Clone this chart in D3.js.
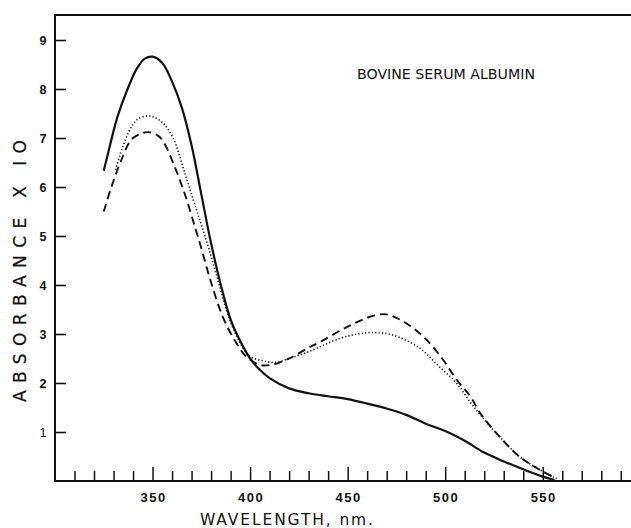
<!DOCTYPE html>
<html>
<head>
<meta charset="utf-8">
<script src="https://cdn.jsdelivr.net/npm/d3@7"></script>
<style>
  html, body { margin: 0; padding: 0; background: #fff; }
  svg { display: block; }
  text { font-family: "Liberation Sans", Arial, sans-serif; fill: #111; }
  .lettering { font-family: "DejaVu Sans", sans-serif; }
</style>
</head>
<body>
<svg id="chart" width="631" height="528"></svg>
<script>
// ---- data ----
const solidNm  = [325,328,332,337,342,346,350,355,360,365,370,375,380,385,390,395,400,405,410,420,430,440,450,460,470,480,490,500,510,520,530,540,550,556];
const solidVal = [6.33,6.82,7.43,7.98,8.42,8.62,8.66,8.53,8.15,7.62,6.85,5.85,4.85,4.00,3.30,2.85,2.50,2.27,2.10,1.89,1.79,1.73,1.67,1.58,1.48,1.35,1.17,1.02,0.82,0.58,0.40,0.24,0.09,0.02];

const dottedNm  = [331,336,340,343,348,352,356,361,366,372,378,384,389,395,400,407,413,420,430,446,455,463,473,487,497,506,513,518,528,538,548,557];
const dottedVal = [6.35,6.96,7.28,7.40,7.45,7.40,7.28,6.96,6.35,5.60,4.85,4.03,3.35,2.81,2.54,2.45,2.42,2.50,2.64,2.91,3.00,3.03,2.98,2.71,2.33,1.99,1.60,1.35,0.90,0.50,0.24,0.05];

const dashedNm  = [325,329,334,339,344,348,352,355,361,367,372,375,380,386,392,398,405,412,420,430,436,450,463,470,480,490,499,506,513,518,528,538,548,557];
const dashedVal = [5.50,6.01,6.55,6.96,7.09,7.12,7.07,6.96,6.45,5.80,5.15,4.75,4.05,3.35,2.88,2.54,2.37,2.38,2.50,2.72,2.84,3.15,3.37,3.40,3.22,2.90,2.47,2.06,1.72,1.38,0.90,0.50,0.24,0.05];

const xTickLabels = [350, 400, 450, 500, 550];
const yTickLabels = [1, 2, 3, 4, 5, 6, 7, 8, 9];
const titleText = "BOVINE SERUM ALBUMIN";
const xAxisTitle = "WAVELENGTH, nm.";
const yAxisTitle = "ABSORBANCE X IO";

// ---- layout ----
const svg = d3.select("#chart");
const plotL = 55, plotR = 631, plotT = 15, plotB = 481;

const x = d3.scaleLinear().domain([300, 300 + (plotR - plotL) / 1.951]).range([plotL, plotR]);
const y = d3.scaleLinear().domain([0, 9]).range([plotB, plotB - 9 * 49]);

// frame lines
svg.append("line").attr("x1", plotL).attr("x2", plotR).attr("y1", plotT).attr("y2", plotT)
  .attr("stroke", "#111").attr("stroke-width", 2);

// x axis (ticks inward/up)
const minorTicks = d3.range(310, 600, 10);
const xAxis = d3.axisBottom(x)
  .tickValues(minorTicks)
  .tickSize(0)
  .tickFormat("");
const gx = svg.append("g").attr("transform", `translate(0,${plotB})`).call(xAxis);
gx.select(".domain").remove();
gx.selectAll(".tick line").remove();
gx.selectAll(".tick").append("line")
  .attr("y1", 0)
  .attr("y2", d => (d % 50 === 0 ? -14 : -10))
  .attr("stroke", "#111").attr("stroke-width", 1.5);
svg.append("line").attr("x1", plotL).attr("x2", plotR).attr("y1", plotB).attr("y2", plotB)
  .attr("stroke", "#111").attr("stroke-width", 2);

// x tick labels
svg.append("g").selectAll("text").data(xTickLabels).join("text")
  .attr("x", d => x(d) + 1)
  .attr("y", 502)
  .attr("text-anchor", "middle")
  .attr("font-size", 13)
  .attr("font-weight", "bold")
  .attr("letter-spacing", 1.5)
  .text(d => d);

// y axis
const yAxis = d3.axisLeft(y).tickValues(yTickLabels).tickSize(0).tickFormat("");
const gy = svg.append("g").attr("transform", `translate(${plotL},0)`).call(yAxis);
gy.select(".domain").remove();
gy.selectAll(".tick line").remove();
gy.selectAll(".tick").append("line")
  .attr("x1", 0).attr("x2", 11)
  .attr("stroke", "#111").attr("stroke-width", 1.6);
svg.append("line").attr("x1", plotL).attr("x2", plotL).attr("y1", plotT - 1).attr("y2", plotB + 1)
  .attr("stroke", "#111").attr("stroke-width", 2);

svg.append("g").selectAll("text").data(yTickLabels).join("text")
  .attr("x", 43)
  .attr("y", d => y(d) + 4.5)
  .attr("text-anchor", "middle")
  .attr("font-size", 12.5)
  .attr("font-weight", d => (d === 1 ? "normal" : "bold"))
  .attr("font-family", d => (d === 1 ? "Liberation Serif, serif" : null))
  .text(d => d);

// axis titles
svg.append("text")
  .attr("class", "lettering")
  .attr("transform", "translate(26,271) rotate(-90)")
  .attr("text-anchor", "middle")
  .attr("font-size", 17)
  .attr("stroke", "#111").attr("stroke-width", 0.25)
  .attr("textLength", 262)
  .attr("lengthAdjust", "spacing")
  .text(yAxisTitle);

svg.append("text")
  .attr("class", "lettering")
  .attr("x", 286.5)
  .attr("y", 525)
  .attr("text-anchor", "middle")
  .attr("font-size", 15.5)
  .attr("textLength", 173)
  .attr("lengthAdjust", "spacing")
  .text(xAxisTitle);

svg.append("text")
  .attr("class", "lettering")
  .attr("x", 357)
  .attr("y", 79)
  .attr("font-size", 14)
  .attr("textLength", 178)
  .attr("lengthAdjust", "spacingAndGlyphs")
  .text(titleText);

// curves
const line = d3.line()
  .x(d => x(d[0]))
  .y(d => y(d[1]))
  .curve(d3.curveCatmullRom.alpha(0.5));

const series = [
  { nm: solidNm,  val: solidVal,  width: 2.2, dash: null },
  { nm: dottedNm, val: dottedVal, width: 1.6, dash: "1.2,2.2" },
  { nm: dashedNm, val: dashedVal, width: 1.9, dash: "8,5" }
];

svg.append("g").selectAll("path").data(series).join("path")
  .attr("d", s => line(s.nm.map((n, i) => [n, s.val[i]])))
  .attr("fill", "none")
  .attr("stroke", "#111")
  .attr("stroke-width", s => s.width)
  .attr("stroke-dasharray", s => s.dash)
  .attr("stroke-linecap", "butt");
</script>
</body>
</html>
